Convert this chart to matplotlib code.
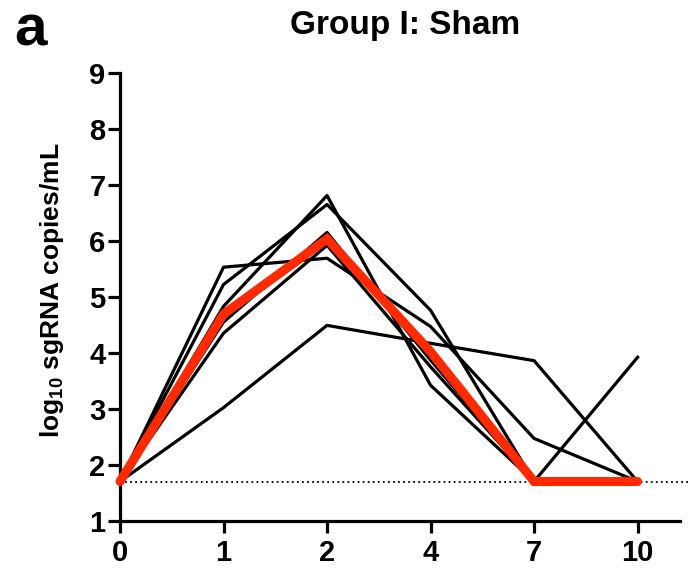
import matplotlib
matplotlib.use("Agg")
import matplotlib.pyplot as plt
import numpy as np

# days post infection (shown as evenly spaced categories)
days = ["0", "1", "2", "4", "7", "10"]
lod = 1.7  # limit of detection

# log10 sgRNA copies/mL for each animal
animal_1 = [1.7, 3.02, 4.49, 4.17, 3.86, 1.7]
animal_2 = [1.7, 5.53, 5.69, 4.47, 2.47, 1.7]
animal_3 = [1.7, 5.22, 6.65, 4.76, 1.7, 1.7]
animal_4 = [1.7, 4.83, 6.81, 3.42, 1.7, 3.92]
animal_5 = [1.7, 4.55, 6.15, 3.87, 1.7, 1.7]
animal_6 = [1.7, 4.35, 5.92, 3.75, 1.7, 1.7]
animals = [animal_1, animal_2, animal_3, animal_4, animal_5, animal_6]

median = np.median(np.array(animals), axis=0)

plt.rcParams["font.family"] = ["Liberation Sans", "DejaVu Sans"]
plt.rcParams["font.weight"] = "bold"
plt.rcParams["mathtext.fontset"] = "custom"
plt.rcParams["mathtext.bf"] = "Liberation Sans:bold"
plt.rcParams["mathtext.rm"] = "Liberation Sans:bold"

fig = plt.figure(figsize=(6.92, 5.76), dpi=100)
ax = fig.add_axes([0.1734, 0.096, 0.8093, 0.7773])

x = np.arange(len(days))

# dotted LOD line runs a bit past the end of the x axis
ax.plot([0, 5.51], [lod, lod], color="black", lw=1.3,
        linestyle=(0, (1, 1.8)), zorder=1, clip_on=False)

for a in animals:
    ax.plot(x, a, color="black", lw=2.3, zorder=2, clip_on=False)

ax.plot(x, median, color="#ff2a00", lw=6.5, solid_capstyle="round",
        solid_joinstyle="miter", zorder=3, clip_on=False)

ax.set_xlim(0, 5.41)
ax.set_ylim(1, 9)
ax.set_xticks(x)
ax.set_xticklabels(days)
ax.set_yticks(range(1, 10))

for s in ["top", "right"]:
    ax.spines[s].set_visible(False)
for s in ["left", "bottom"]:
    ax.spines[s].set_linewidth(2.3)

ax.tick_params(axis="both", width=2.3, length=8.5, labelsize=21)
ax.tick_params(axis="y", pad=2)
ax.tick_params(axis="x", pad=5)
for lab in ax.get_xticklabels() + ax.get_yticklabels():
    lab.set_fontweight("bold")

fig.text(52 / 692, 1 - 290 / 576, r"log$_{\mathbf{10}}$ sgRNA copies/mL",
         rotation=90, ha="center", va="center", fontsize=19, fontweight="bold")
fig.text(405.5 / 692, 1 - 34 / 576, "Group I: Sham", ha="center",
         va="baseline", fontsize=24, fontweight="bold")
fig.text(0.02, 1 - 45 / 576, "a", ha="left", va="baseline", fontsize=42,
         fontweight="bold")

fig.savefig("out.png", dpi=100)
